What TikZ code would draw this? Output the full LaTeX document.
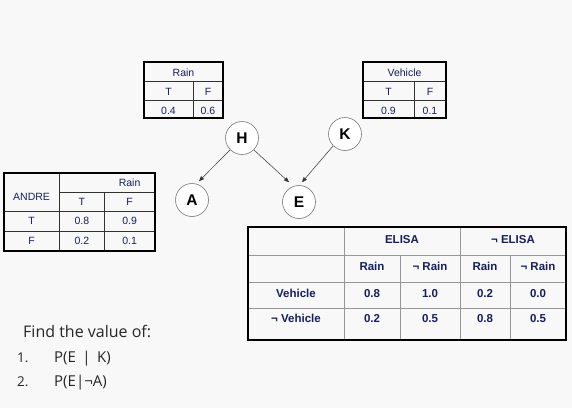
\documentclass[tikz,border=0pt]{standalone}
\usepackage{fontspec}
\setmainfont{Open Sans}
\newfontfamily\tabfont{Liberation Sans}
\usepackage{xcolor}
\definecolor{paper}{RGB}{248,248,248}
\definecolor{navyink}{RGB}{22, 30, 92}
\definecolor{edgegray}{RGB}{50, 50, 50}
\definecolor{rulegray}{RGB}{150,150,150}
\definecolor{ringgray}{RGB}{120,120,120}
\usetikzlibrary{arrows.meta, positioning}

\begin{document}
\begin{tikzpicture}[x=1pt, y=-1pt,
  smallcell/.style={font=\tabfont\fontsize{10.5}{12}\selectfont, text=navyink,
              inner sep=0pt, text height=7.5pt, text depth=0pt},
  bigcell/.style={font=\tabfont\bfseries\fontsize{11.5}{13}\selectfont, text=navyink,
              inner sep=0pt, text height=8.2pt, text depth=0pt},
  tabouter/.style={draw=black, line width=1.6pt},
  tabinner/.style={draw=edgegray, line width=0.8pt},
  biginner/.style={draw=rulegray, line width=1pt},
  bnode/.style={circle, draw=ringgray, fill=white, line width=0.6pt,
              minimum size=33pt, inner sep=0pt,
              font=\tabfont\bfseries\fontsize{15.5}{17}\selectfont},
  arr/.style={-{Triangle[length=5pt,width=4pt]}, edgegray, line width=0.5pt},
  qtext/.style={anchor=base west, inner sep=0pt, text=black!85}
]

  % ── Background / page size ──
  \fill[paper] (0,0) rectangle (572,408);

  % ── Rain prior (top left) ──
  \draw[tabinner] (144,81) -- (223,81) (144,100) -- (223,100) (193,81) -- (193,118);
  \draw[tabouter] (144,62) rectangle (223,118);
  \node[smallcell] (rainhead) at (183.5,72.5) {Rain};
  \foreach \x/\t/\v [count=\i] in {168.5/T/0.4, 208/F/0.6} {
    \node[smallcell] (rainT\i) at (\x,91.5) {\t};
    \node[smallcell] (rainV\i) at (\x,110.5) {\v};
  }

  % ── Vehicle prior (top right) ──
  \draw[tabinner] (363,81) -- (446,81) (363,100) -- (446,100) (414,81) -- (414,118);
  \draw[tabouter] (363,62) rectangle (446,118);
  \node[smallcell] (vehhead) at (404.5,72.5) {Vehicle};
  \foreach \x/\t/\v [count=\i] in {388.5/T/0.9, 430/F/0.1} {
    \node[smallcell] (vehT\i) at (\x,91.5) {\t};
    \node[smallcell] (vehV\i) at (\x,110.5) {\v};
  }

  % ── ANDRE given Rain (left) ──
  \draw[tabinner] (59.3,173) -- (59.3,251) (104.3,192) -- (104.3,251)
                  (59.3,192) -- (155,192) (4,211) -- (155,211) (4,231) -- (155,231);
  \draw[tabouter] (4,173) rectangle (155,251);
  \node[smallcell] (andrehead) at (31.6,196.5) {ANDRE};
  \node[smallcell] (andrerain) at (129.6,182.5) {Rain};
  \node[smallcell] (andreT) at (81.8,202) {T};
  \node[smallcell] (andreF) at (129.6,202) {F};
  \foreach \y/\r/\a/\b [count=\i] in {220.5/T/0.8/0.9, 241/F/0.2/0.1} {
    \node[smallcell] (andreR\i) at (31.6,\y) {\r};
    \node[smallcell] (andreA\i) at (81.8,\y) {\a};
    \node[smallcell] (andreB\i) at (129.6,\y) {\b};
  }

  % ── Network ──
  \node[bnode] (H) at (242,138) {H};
  \node[bnode] (K) at (345,134) {K};
  \node[bnode] (A) at (192,200) {A};
  \node[bnode] (E) at (299,202) {E};

  \draw[arr] (H.south west) -- ([shift={(7pt,2pt)}]A.north);
  \draw[arr] (H.south east) -- ([shift={(-10pt,3pt)}]E.north);
  \draw[arr] (K.south west) -- ([shift={(3pt,3pt)}]E.north);

  % ── ELISA given Vehicle, Rain (bottom right) ──
  \draw[biginner] (248,255) -- (566,255) (248,282) -- (566,282) (248,308) -- (566,308)
                  (344,227) -- (344,340) (460,227) -- (460,340)
                  (400,255) -- (400,340) (510,255) -- (510,340);
  \draw[tabouter] (248,227) rectangle (566,340);
  \node[bigcell] (elisa)    at (402,239) {ELISA};
  \node[bigcell] (notelisa) at (513,239) {¬ ELISA};
  \foreach \x/\t [count=\i] in {372/Rain, 430/¬ Rain, 485/Rain, 538/¬ Rain}
    \node[bigcell] (cond\i) at (\x,266.5) {\t};
  \node[bigcell] (veh)    at (296,293) {Vehicle};
  \node[bigcell] (notveh) at (296,318.5) {¬ Vehicle};
  \foreach \x/\p/\q [count=\i] in {372/0.8/0.2, 430/1.0/0.5, 485/0.2/0.8, 538/0.0/0.5} {
    \node[bigcell] (pveh\i) at (\x,293) {\p};
    \node[bigcell] (pnot\i) at (\x,318.5) {\q};
  }

  % ── Question ──
  \node[qtext, font=\fontsize{16}{19}\selectfont] (ask) at (23,337) {Find the value of:};
  \node[qtext, font=\fontsize{13.5}{16}\selectfont] (num1) at (17,362) {1.};
  \node[qtext, font=\fontsize{15}{18}\selectfont] (q1) at (54,362) {P(E \,|\, K)};
  \node[qtext, font=\fontsize{13.5}{16}\selectfont] (num2) at (17,386) {2.};
  \node[qtext, font=\fontsize{15}{18}\selectfont] (q2) at (54,386) {P(E|¬A)};

\end{tikzpicture}
\end{document}
